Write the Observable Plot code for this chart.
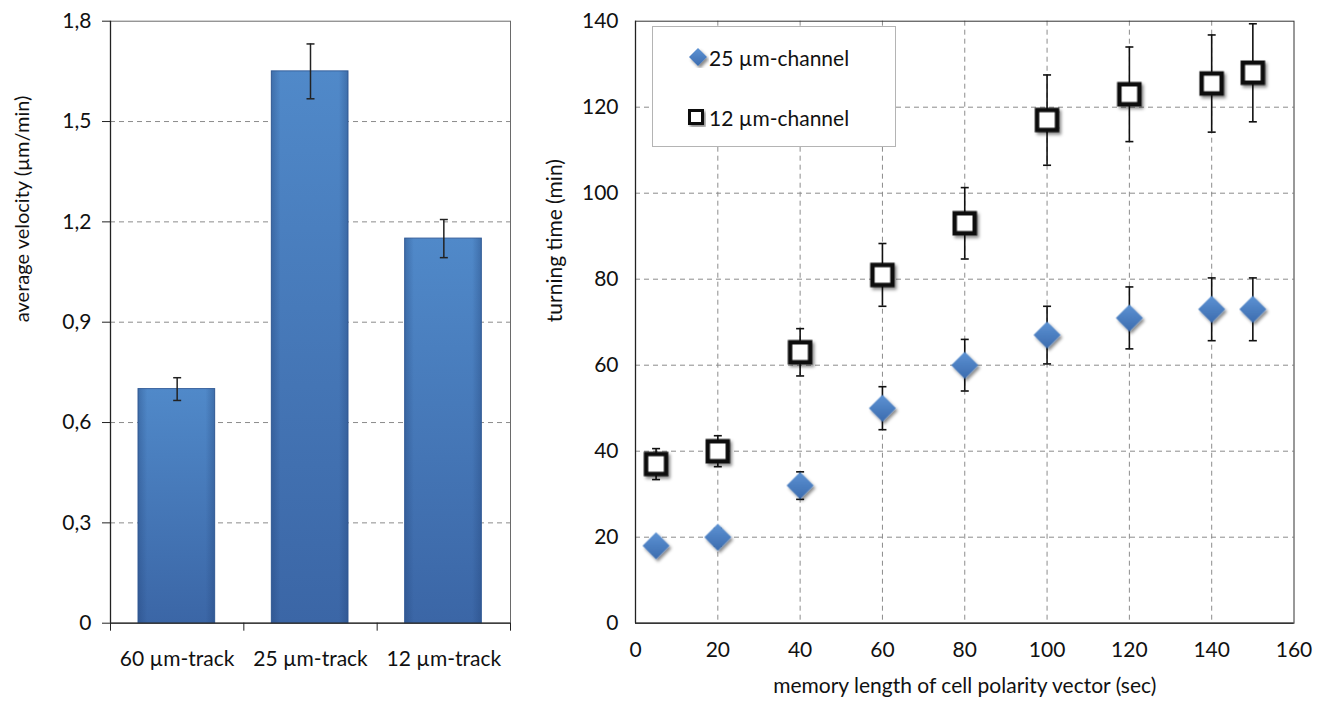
<!DOCTYPE html>
<html>
<head>
<meta charset="utf-8">
<script src="https://cdn.jsdelivr.net/npm/d3@7"></script>
<script src="https://cdn.jsdelivr.net/npm/@observablehq/plot@0.6"></script>
<style>
  body { margin: 0; background: #fff; }
  #wrap { position: relative; width: 1321px; height: 705px; overflow: hidden; background: #fff; }
  #left { position: absolute; left: 0; top: 0; }
  #right { position: absolute; left: 520px; top: 0; }
  .shadow { filter: url(#shadow); }
  .legend { position: absolute; left: 652px; top: 26px; width: 244px; height: 121px;
            border: 1px solid #b4b4b4; background: #fff; box-sizing: border-box;
            font-family: Lato, sans-serif; font-size: 21px; color: #111; }
  .legend .item { position: absolute; left: 0; display: flex; align-items: center; height: 30px; }
  .legend svg { display: block; }
</style>
</head>
<body>
<svg width="0" height="0" style="position:absolute">
  <defs>
    <linearGradient id="barGrad" x1="0" y1="0" x2="0" y2="1">
      <stop offset="0" stop-color="#5089c9"/>
      <stop offset="1" stop-color="#3b66a6"/>
    </linearGradient>
    <linearGradient id="barEdge" x1="0" y1="0" x2="1" y2="0">
      <stop offset="0" stop-color="#1f3f73" stop-opacity="0.35"/>
      <stop offset="0.12" stop-color="#1f3f73" stop-opacity="0"/>
      <stop offset="0.88" stop-color="#1f3f73" stop-opacity="0"/>
      <stop offset="1" stop-color="#1f3f73" stop-opacity="0.35"/>
    </linearGradient>
    <linearGradient id="diamGrad" x1="0" y1="0" x2="0" y2="1">
      <stop offset="0" stop-color="#5d93d4"/>
      <stop offset="1" stop-color="#3c6caf"/>
    </linearGradient>
    <filter id="shadow" x="-30%" y="-30%" width="170%" height="170%">
      <feDropShadow dx="2" dy="2.5" stdDeviation="1.6" flood-color="#000" flood-opacity="0.45"/>
    </filter>
  </defs>
</svg>
<div id="wrap">
  <div id="left"></div>
  <div id="right"></div>
  <div class="legend">
    <div class="item" style="top:15px;left:34px;">
      <svg width="22" height="22" viewBox="-11 -11 22 22"><path d="M0,-9L9,0L0,9L-9,0Z" fill="url(#diamGrad)" class="shadow"/></svg>
      <span style="margin-left:0px">25 µm-channel</span>
    </div>
    <div class="item" style="top:75px;left:33px;">
      <svg width="20" height="20" viewBox="-10 -10 20 20"><rect x="-6.5" y="-6.5" width="13" height="13" fill="#fff" stroke="#111" stroke-width="3" class="shadow"/></svg>
      <span style="margin-left:3px">12 µm-channel</span>
    </div>
  </div>
</div>
<script>
// ---- Left chart data ----
const trackCategories = ["60 µm-track", "25 µm-track", "12 µm-track"];
const trackVelocity = [0.70, 1.65, 1.15];
const trackVelocityErr = [0.034, 0.082, 0.057];
const velocityTicks = [0, 0.3, 0.6, 0.9, 1.2, 1.5, 1.8];
const velocityTickLabels = ["0", "0,3", "0,6", "0,9", "1,2", "1,5", "1,8"];
const velocityTitle = "average velocity (µm/min)";

// ---- Right chart data ----
const memoryLength = [5, 20, 40, 60, 80, 100, 120, 140, 150];
const turn25 = [18, 20, 32, 50, 60, 67, 71, 73, 73];
const turn25Err = [1.8, 2, 3.2, 5, 6, 6.7, 7.2, 7.3, 7.3];
const turn12 = [37, 40, 63, 81, 93, 117, 123, 125.5, 128];
const turn12Err = [3.6, 3.6, 5.5, 7.3, 8.3, 10.5, 11, 11.3, 11.4];
const memoryTicks = [0, 20, 40, 60, 80, 100, 120, 140, 160];
const turnTicks = [0, 20, 40, 60, 80, 100, 120, 140];
const memoryTitle = "memory length of cell polarity vector (sec)";
const turnTitle = "turning time (min)";

// symbols
const capSymbol = { draw(ctx) { ctx.moveTo(-4, 0); ctx.lineTo(4, 0); } };
const diamondSymbol = { draw(ctx, size) { const r = Math.sqrt(size / Math.PI); ctx.moveTo(0, -r); ctx.lineTo(r, 0); ctx.lineTo(0, r); ctx.lineTo(-r, 0); ctx.closePath(); } };

// ---- Left chart ----
const bars = trackCategories.map((c, i) => ({ i, c, v: trackVelocity[i], e: trackVelocityErr[i] }));
const barX1 = d => d.i + 0.21, barX2 = d => d.i + 0.785, barMid = d => d.i + 0.5;
const left = Plot.plot({
  width: 520, height: 705,
  marginLeft: 110, marginRight: 10, marginTop: 20.7, marginBottom: 82.3,
  style: { fontFamily: "Lato, sans-serif", fontSize: "21px", color: "#111", background: "transparent", overflow: "visible" },
  x: { domain: [0, 3] },
  y: { domain: [0, 1.8] },
  marks: [
    Plot.ruleY(velocityTicks.slice(1, -1), { stroke: "#8c8c8c", strokeDasharray: "5,4", strokeWidth: 1 }),
    Plot.frame({ stroke: "#6a6a6a" }),
    Plot.rect(bars, { x1: barX1, x2: barX2, y1: 0, y2: "v", fill: "url(#barGrad)", stroke: "#38619c", strokeWidth: 1 }),
    Plot.rect(bars, { x1: barX1, x2: barX2, y1: 0, y2: "v", fill: "url(#barEdge)" }),
    Plot.ruleX(bars, { x: barMid, y1: d => d.v - d.e, y2: d => d.v + d.e, stroke: "#222", strokeWidth: 1.5 }),
    Plot.dot(bars, { x: barMid, y: d => d.v - d.e, symbol: capSymbol, r: 1, stroke: "#222", strokeWidth: 1.5, fill: "none" }),
    Plot.dot(bars, { x: barMid, y: d => d.v + d.e, symbol: capSymbol, r: 1, stroke: "#222", strokeWidth: 1.5, fill: "none" }),
    Plot.ruleX([0], { stroke: "#222", strokeWidth: 1.3 }),
    Plot.ruleY([0], { stroke: "#222", strokeWidth: 1.3 }),
    Plot.axisY({ ticks: velocityTicks, tickFormat: d => velocityTickLabels[velocityTicks.indexOf(d)], tickSize: 8, tickPadding: 11, label: null, fontSize: 21, stroke: "#222" }),
    Plot.axisX({ ticks: [0, 1, 2, 3], tickFormat: () => "", tickSize: 8, label: null, stroke: "#222" }),
    Plot.axisX({ ticks: bars.map(barMid), tickFormat: d => trackCategories[Math.floor(d)], tickSize: 0, tickPadding: 28, label: null, fontSize: 21 }),
    Plot.text([velocityTitle], { frameAnchor: "left", dx: -88, rotate: -90, fontSize: 20, fill: "#111" })
  ]
});
document.getElementById("left").append(left);

// ---- Right chart ----
const pts25 = memoryLength.map((m, i) => ({ m, v: turn25[i], e: turn25Err[i] }));
const pts12 = memoryLength.map((m, i) => ({ m, v: turn12[i], e: turn12Err[i] }));
const errMarks = (pts) => [
  Plot.ruleX(pts, { x: "m", y1: d => d.v - d.e, y2: d => d.v + d.e, stroke: "#111", strokeWidth: 1.6 }),
  Plot.dot(pts, { x: "m", y: d => d.v - d.e, symbol: capSymbol, r: 1, stroke: "#111", strokeWidth: 1.6, fill: "none" }),
  Plot.dot(pts, { x: "m", y: d => d.v + d.e, symbol: capSymbol, r: 1, stroke: "#111", strokeWidth: 1.6, fill: "none" })
];
const right = Plot.plot({
  width: 801, height: 705,
  marginLeft: 115, marginRight: 27.5, marginTop: 20.7, marginBottom: 82.3,
  style: { fontFamily: "Lato, sans-serif", fontSize: "21px", color: "#111", background: "transparent", overflow: "visible" },
  x: { domain: [0, 160] },
  y: { domain: [0, 140] },
  marks: [
    Plot.ruleY(turnTicks.slice(1, -1), { stroke: "#8c8c8c", strokeDasharray: "5,4", strokeWidth: 1 }),
    Plot.ruleX(memoryTicks.slice(1, -1), { stroke: "#8c8c8c", strokeDasharray: "5,4", strokeWidth: 1 }),
    Plot.frame({ stroke: "#333" }),
    Plot.ruleX([0], { stroke: "#222", strokeWidth: 1.3 }),
    Plot.ruleY([0], { stroke: "#222", strokeWidth: 1.3 }),
    ...errMarks(pts25),
    ...errMarks(pts12),
    Plot.dot(pts25, { x: "m", y: "v", symbol: diamondSymbol, r: 13.5, fill: "url(#diamGrad)", className: "shadow" }),
    Plot.dot(pts12, { x: "m", y: "v", symbol: "square", r: 11.3, fill: "white", stroke: "#111", strokeWidth: 4.5, className: "shadow" }),
    Plot.axisY({ ticks: turnTicks, tickSize: 0, tickPadding: 17, label: null, fontSize: 21 }),
    Plot.axisX({ ticks: memoryTicks, tickSize: 0, tickPadding: 19, label: null, fontSize: 21 }),
    Plot.text([memoryTitle], { frameAnchor: "bottom", dy: 70, fontSize: 21, fill: "#111" }),
    Plot.text([turnTitle], { frameAnchor: "left", dx: -80, rotate: -90, fontSize: 21, fill: "#111" })
  ]
});
document.getElementById("right").append(right);
</script>
</body>
</html>
